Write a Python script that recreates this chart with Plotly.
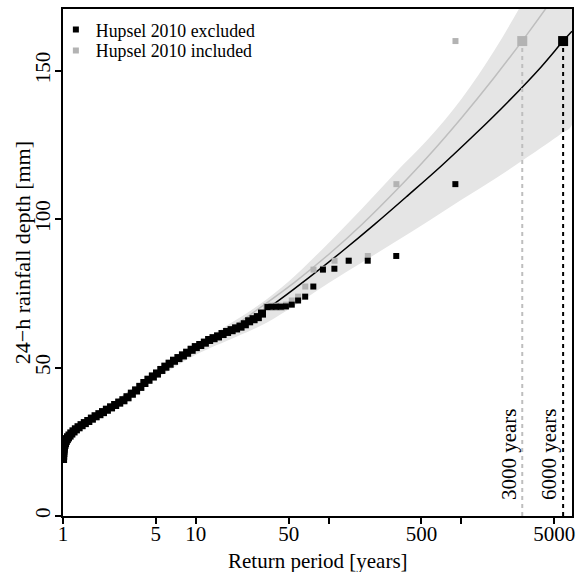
import math
import plotly.graph_objects as go

# ---- data ----
# empirical points, Hupsel 2010 excluded (return period [years], depth [mm])
excl_T = [1.001, 1.003, 1.005, 1.008, 1.012, 1.018, 1.026, 1.036, 1.05, 1.068, 1.09, 1.12,
          1.155, 1.2, 1.25, 1.31, 1.38, 1.46, 1.55, 1.65, 1.76, 1.88, 2.0, 2.14, 2.3, 2.47,
          2.65, 2.85, 3.06, 3.3, 3.55, 3.82, 4.1, 4.4, 4.75, 5.1, 5.5, 5.9, 6.35, 6.85, 7.4,
          8.0, 8.6, 9.3, 10.0, 10.8, 11.7, 12.6, 13.6, 14.7, 15.9, 17.2, 18.6, 20.1, 21.7,
          23.4, 25.2, 27.2, 29.3, 31.5, 34.6, 37.1, 40.1, 43.5, 47.7, 52.8, 58.9, 66.6, 76.7,
          90.6, 110.5, 141.6, 197, 323, 900]
excl_depth = [19.2, 20.3, 21.2, 22.0, 22.7, 23.4, 24.0, 24.6, 25.3, 25.9, 26.5, 27.1,
              27.8, 28.5, 29.2, 29.9, 30.6, 31.3, 32.0, 32.8, 33.6, 34.3, 35.0, 35.8, 36.6, 37.4,
              38.2, 39.0, 40.0, 41.2, 42.3, 43.5, 44.8, 45.9, 47.0, 48.0, 49.2, 50.3, 51.3, 52.3, 53.2,
              54.1, 55.0, 56.0, 56.9, 57.6, 58.4, 59.3, 59.9, 60.5, 61.3, 62.0, 62.6, 63.2, 63.8,
              64.6, 65.6, 66.3, 67.0, 68.2, 70.4, 70.5, 70.5, 70.5, 70.6, 71.2, 72.6, 73.9, 77.3,
              83.0, 83.3, 86.0, 86.0, 87.6, 111.8]

# empirical points, Hupsel 2010 included (upper tail; lower part coincides with excluded)
incl_T = [902, 323.8, 197.3, 141.9, 110.8, 90.8, 76.9, 66.7, 58.9, 52.8, 47.8]
incl_depth = [160, 111.8, 87.6, 86.0, 86.0, 83.3, 83.0, 77.3, 73.9, 72.6, 71.2]

# fitted curves
fit_excl_T = [2, 5, 10, 20, 40, 71, 126, 224, 398, 708, 1259, 2239, 3981, 5830, 6800]
fit_excl_depth = [35.5, 47.5, 55.8, 63.3, 71.9, 80.3, 89.1, 98.4, 108.1, 118.0, 128.5,
                  139.5, 151.3, 160.0, 163.3]
fit_incl_T = [2, 5, 10, 20, 30.5, 56, 100, 178, 316, 562, 1000, 1778, 3162, 5623, 6800]
fit_incl_depth = [35.5, 47.6, 56.5, 64.5, 70.2, 78.9, 88.1, 98.2, 109.3, 121.2, 134.1,
                  147.9, 162.6, 178.2, 183.6]

# confidence band
band_T = [2, 5, 10, 20, 30.5, 50, 100, 178, 316, 562, 1000, 1778, 3162, 5623, 6800]
band_upper = [35.8, 48.8, 57.6, 66.0, 71.4, 79.0, 92.0, 103.5, 115.5, 127.0, 140.5, 157.0,
              176.0, 195.0, 201.0]
band_lower = [35.0, 46.2, 54.3, 60.3, 64.0, 69.6, 78.5, 85.4, 92.3, 99.3, 106.5, 113.5,
              121.0, 128.8, 131.8]

# Hupsel 2010 event
hupsel_depth = 160
hupsel_T_incl = 2870
hupsel_T_excl = 5830
rp_labels = ["3000 years", "6000 years"]
rp_label_T = [2256, 4518]

x_tickvals = [1, 5, 10, 50, 100, 500, 1000, 5000]
x_ticktext = ["1", "5", "10", "50", "", "500", "", "5000"]
y_tickvals = [0, 50, 100, 150]

BLACK = "#000000"
GREY_PT = "#B3B3B3"
GREY_LN = "#BEBEBE"
BAND = "#E5E5E5"
FONT = "Liberation Serif"

fig = go.Figure()

# band
fig.add_trace(go.Scatter(
    x=band_T + band_T[::-1], y=band_upper + band_lower[::-1],
    fill="toself", fillcolor=BAND, line=dict(width=0, shape="spline"), mode="lines",
    hoverinfo="skip", showlegend=False))

# fitted lines
fig.add_trace(go.Scatter(x=fit_incl_T, y=fit_incl_depth, mode="lines",
                         line=dict(color=GREY_LN, width=1.5, shape="spline"), showlegend=False))
fig.add_trace(go.Scatter(x=fit_excl_T, y=fit_excl_depth, mode="lines",
                         line=dict(color=BLACK, width=1.5, shape="spline"), showlegend=False))

# vertical dashed lines
fig.add_trace(go.Scatter(x=[hupsel_T_incl, hupsel_T_incl], y=[0, hupsel_depth], mode="lines",
                         line=dict(color=GREY_LN, width=2, dash="4px,4px"), showlegend=False))
fig.add_trace(go.Scatter(x=[hupsel_T_excl, hupsel_T_excl], y=[0, hupsel_depth], mode="lines",
                         line=dict(color=BLACK, width=2, dash="4px,4px"), showlegend=False))

# points
grey_x = incl_T + [t for t in excl_T if t < 47]
grey_y = incl_depth + [d for t, d in zip(excl_T, excl_depth) if t < 47]
grey_size = [6] * len(incl_T) + [8 for t in excl_T if t < 47]
excl_size = [8 if t < 34 else 6 for t in excl_T]

fig.add_trace(go.Scatter(x=grey_x, y=grey_y, mode="markers", name="Hupsel 2010 included",
                         marker=dict(symbol="square", size=grey_size, color=GREY_PT, opacity=1,
                                     line=dict(width=0)),
                         showlegend=False))
fig.add_trace(go.Scatter(x=excl_T, y=excl_depth, mode="markers", name="Hupsel 2010 excluded",
                         marker=dict(symbol="square", size=excl_size, color=BLACK, opacity=1,
                                     line=dict(width=0)),
                         showlegend=False))
# legend entries
fig.add_trace(go.Scatter(x=[None], y=[None], mode="markers", name="Hupsel 2010 excluded",
                         marker=dict(symbol="square", size=6, color=BLACK, line=dict(width=0)),
                         legend="legend"))
fig.add_trace(go.Scatter(x=[None], y=[None], mode="markers", name="Hupsel 2010 included",
                         marker=dict(symbol="square", size=6, color=GREY_PT, line=dict(width=0)),
                         legend="legend2"))

# big squares
fig.add_trace(go.Scatter(x=[hupsel_T_incl], y=[hupsel_depth], mode="markers",
                         marker=dict(symbol="square", size=10, color=GREY_PT, opacity=1,
                                     line=dict(width=0)),
                         showlegend=False))
fig.add_trace(go.Scatter(x=[hupsel_T_excl], y=[hupsel_depth], mode="markers",
                         marker=dict(symbol="square", size=10, color=BLACK, opacity=1,
                                     line=dict(width=0)),
                         showlegend=False))

ann = []
for t, lab in zip(rp_label_T, rp_labels):
    ann.append(dict(x=math.log10(t), y=21.0, xref="x", yref="y", text=lab, showarrow=False,
                    textangle=-90, xanchor="center", yanchor="middle",
                    font=dict(family=FONT, size=21, color="black")))
ann.append(dict(x=0.5, y=-0.088, xref="paper", yref="paper", text="Return period [years]",
                showarrow=False, xanchor="center", yanchor="middle",
                font=dict(family=FONT, size=21, color="black")))
ann.append(dict(x=-0.079, y=0.52, xref="paper", yref="paper", text="24\u2212h rainfall depth [mm]",
                showarrow=False, xanchor="center", yanchor="middle", textangle=-90,
                font=dict(family=FONT, size=22, color="black")))

leg_common = dict(xanchor="left", yanchor="top", bgcolor="rgba(0,0,0,0)",
                  font=dict(family=FONT, size=17.8, color="black"), itemwidth=30)

fig.update_layout(
    width=585, height=572,
    margin=dict(l=63, r=13, t=7, b=56),
    paper_bgcolor="white", plot_bgcolor="white",
    font=dict(family=FONT, size=21, color="black"),
    annotations=ann,
    legend=dict(x=-0.014, y=0.995, **leg_common),
    legend2=dict(x=-0.014, y=0.954, **leg_common),
    xaxis=dict(type="log", range=[0, math.log10(6800)], tickvals=x_tickvals, ticktext=x_ticktext,
               showline=True, mirror=True, linecolor="black", linewidth=1.5,
               ticks="outside", ticklen=6, tickwidth=1.5, tickcolor="black",
               ticklabelstandoff=-8,
               showgrid=False, zeroline=False, tickfont=dict(family=FONT, size=21)),
    yaxis=dict(range=[0, 170.8], tickvals=y_tickvals, tickangle=-90,
               showline=True, mirror=True, linecolor="black", linewidth=1.5,
               ticks="outside", ticklen=6, tickwidth=1.5, tickcolor="black",
               ticklabelstandoff=-3,
               showgrid=False, zeroline=False, tickfont=dict(family=FONT, size=21)),
)

fig.write_html("out.html")
